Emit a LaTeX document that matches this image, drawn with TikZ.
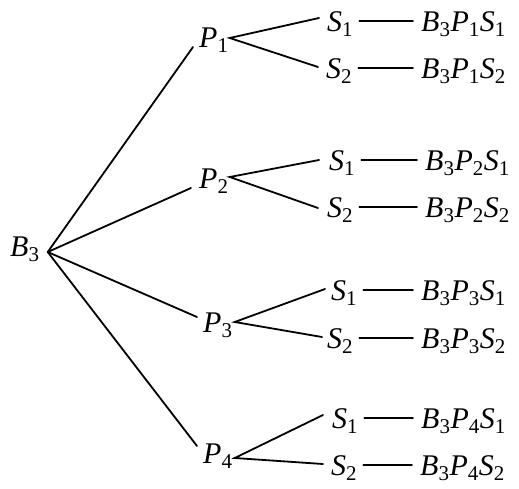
\documentclass[tikz,border=0pt]{standalone}
\usepackage{fontspec}
\setmainfont{Liberation Serif}
\newcommand\itsub[2]{\textit{#1}\textsubscript{#2}}
\tikzset{
  lbl/.style={inner sep=0pt, anchor=base west, font=\fontsize{30}{32}\selectfont},
  edge/.style={line width=1.8pt, line cap=round}
}
\begin{document}
\begin{tikzpicture}[x=1pt,y=-1pt]
\useasboundingbox (0,0) rectangle (519,488);

% root and first level
\node[lbl] (b3) at (10,256) {\itsub{B}{3}};
\node[lbl] (p1) at (199,47)  {\itsub{P}{1}};
\node[lbl] (p2) at (199,188) {\itsub{P}{2}};
\node[lbl] (p3) at (203,332) {\itsub{P}{3}};
\node[lbl] (p4) at (203,463) {\itsub{P}{4}};

% second level
\node[lbl] (s11) at (327,31)  {\itsub{S}{1}};
\node[lbl] (s12) at (326,78)  {\itsub{S}{2}};
\node[lbl] (s21) at (329,170) {\itsub{S}{1}};
\node[lbl] (s22) at (327,217) {\itsub{S}{2}};
\node[lbl] (s31) at (331,300) {\itsub{S}{1}};
\node[lbl] (s32) at (327,348) {\itsub{S}{2}};
\node[lbl] (s41) at (332,428) {\itsub{S}{1}};
\node[lbl] (s42) at (331,475) {\itsub{S}{2}};

% outcomes
\node[lbl] (r11) at (421,31)  {\itsub{B}{3}\itsub{P}{1}\itsub{S}{1}};
\node[lbl] (r12) at (421,78)  {\itsub{B}{3}\itsub{P}{1}\itsub{S}{2}};
\node[lbl] (r21) at (425,170) {\itsub{B}{3}\itsub{P}{2}\itsub{S}{1}};
\node[lbl] (r22) at (425,217) {\itsub{B}{3}\itsub{P}{2}\itsub{S}{2}};
\node[lbl] (r31) at (421,300) {\itsub{B}{3}\itsub{P}{3}\itsub{S}{1}};
\node[lbl] (r32) at (421,348) {\itsub{B}{3}\itsub{P}{3}\itsub{S}{2}};
\node[lbl] (r41) at (421,428) {\itsub{B}{3}\itsub{P}{4}\itsub{S}{1}};
\node[lbl] (r42) at (420,475) {\itsub{B}{3}\itsub{P}{4}\itsub{S}{2}};

% root branches
\draw[edge] ([shift={(8pt,4pt)}]b3.base east) -- ([shift={(-6pt,0pt)}]p1.base west);
\draw[edge] ([shift={(8pt,4pt)}]b3.base east) -- ([shift={(-8pt,0pt)}]p2.base west);
\draw[edge] ([shift={(8pt,4pt)}]b3.base east) -- ([shift={(-6pt,15pt)}]p3.base west);
\draw[edge] ([shift={(8pt,4pt)}]b3.base east) -- ([shift={(-6pt,17pt)}]p4.base west);

% second-level branches
\draw[edge] ([shift={(-8pt,13pt)}]s11.base west) -- ([shift={(1pt,9pt)}]p1.base east)
            -- ([shift={(-8pt,11pt)}]s12.base west);
\draw[edge] ([shift={(-10pt,10pt)}]s21.base west) -- ([shift={(1pt,11pt)}]p2.base east)
            -- ([shift={(-9pt,9pt)}]s22.base west);
\draw[edge] ([shift={(-6pt,11pt)}]s31.base west) -- ([shift={(2pt,10pt)}]p3.base east)
            -- ([shift={(-5pt,11pt)}]s32.base west);
\draw[edge] ([shift={(-9pt,13pt)}]s41.base west) -- ([shift={(2pt,5pt)}]p4.base east)
            -- ([shift={(-8pt,11pt)}]s42.base west);

% dashes to the outcomes
\foreach \n in {11,12,21,22,31,32,41,42}
  \draw[edge] ([shift={(6pt,10pt)}]s\n.base east) -- ([shift={(-8pt,10pt)}]r\n.base west);
\end{tikzpicture}
\end{document}
